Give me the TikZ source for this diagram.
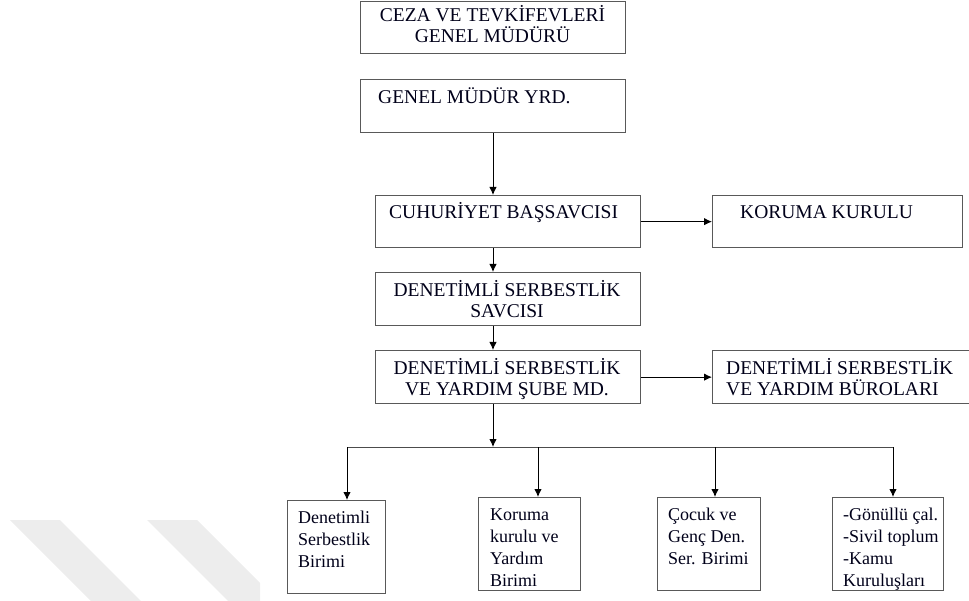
\documentclass[tikz,border=0pt]{standalone}
\usepackage{fontspec}
\setmainfont{Liberation Serif}
\usetikzlibrary{arrows.meta,calc}
\tikzset{
  box/.style={draw=black!65, line width=1.3pt, rectangle, inner sep=0pt, anchor=north west},
  txt/.style={inner sep=0pt, font=\fontsize{19.5}{21}\selectfont, text=black!90!blue},
  ltxt/.style={txt, align=left, anchor=base west},
  ctxt/.style={txt, align=center, anchor=base},
  stxt/.style={inner sep=0pt, font=\fontsize{18}{22.3}\selectfont, text=black!90!blue, align=left, anchor=base west},
  arr/.style={draw=black, line width=1pt, -{Latex[length=8pt,width=7.5pt]}},
  ln/.style={draw=black!70, line width=1pt},
  wm/.style={fill=black!7, draw=none}
}
\begin{document}
\begin{tikzpicture}[x=1pt,y=-1pt]
\useasboundingbox (0,0) rectangle (969,601);
% watermark
\fill[wm] (10,520) -- (60,520) -- (141,601) -- (91,601) -- cycle;
\fill[wm] (147,520) -- (197,520) -- (260,583) -- (260,601) -- (228,601) -- cycle;
% boxes
\node[box, minimum width=265pt, minimum height=52pt] (a) at (360,1) {};
\node[box, minimum width=265pt, minimum height=53pt] (b) at (360,79) {};
\node[box, minimum width=265pt, minimum height=52pt] (c) at (375,195) {};
\node[box, minimum width=250pt, minimum height=52pt] (d) at (712,195) {};
\node[box, minimum width=265pt, minimum height=53pt] (e) at (375,272) {};
\node[box, minimum width=265pt, minimum height=53pt] (f) at (375,350) {};
\node[box, minimum width=258pt, minimum height=53pt] (g) at (712,350) {};
\node[box, minimum width=98pt, minimum height=93pt] (h) at (287,500) {};
\node[box, minimum width=102pt, minimum height=93pt] (i) at (478,497) {};
\node[box, minimum width=103pt, minimum height=93pt] (j) at (657,497) {};
\node[box, minimum width=111pt, minimum height=93pt] (k) at (832,497) {};
% texts (base anchor = baseline of last line)
\node[ctxt] (ta) at (492.5,42.5) {CEZA VE TEVKİFEVLERİ\\GENEL MÜDÜRÜ};
\node[ltxt] (tb) at (378,103.5) {GENEL MÜDÜR YRD.};
\node[ltxt] (tc) at (389,218.5) {CUHURİYET BAŞSAVCISI};
\node[ltxt] (td) at (740,218.5) {KORUMA KURULU};
\node[ctxt] (te) at (507,317.5) {DENETİMLİ SERBESTLİK\\SAVCISI};
\node[ctxt] (tf) at (507,395.5) {DENETİMLİ SERBESTLİK\\VE YARDIM ŞUBE MD.};
\node[ltxt] (tg) at (726,395.5) {DENETİMLİ SERBESTLİK\\VE YARDIM BÜROLARI};
\node[stxt] (th) at (298,567.6) {Denetimli\\Serbestlik\\Birimi};
\node[stxt] (ti) at (490,586.9) {Koruma\\kurulu ve\\Yardım\\Birimi};
\node[stxt] (tj) at (668,564.6) {Çocuk ve\\Genç Den.\\Ser. Birimi};
\node[stxt] (tk) at (843,586.9) {-Gönüllü çal.\\-Sivil toplum\\-Kamu\\Kuruluşları};
% connectors
\coordinate (bus) at (493,447);
\coordinate (dh) at (347,447);
\coordinate (di) at (538,447);
\coordinate (dj) at (715,447);
\coordinate (dk) at (893,447);
\draw[arr] (b.south -| bus) -- (c.north -| bus);
\draw[arr] (c.east) -- (d.west);
\draw[arr] (c.south -| bus) -- (e.north -| bus);
\draw[arr] (e.south -| bus) -- (f.north -| bus);
\draw[arr] (f.east) -- (g.west);
\draw[arr] (f.south -| bus) -- (bus);
\draw[ln] (dh) -- (dk);
\draw[arr] (dh) -- (h.north -| dh);
\draw[arr] (di) -- (i.north -| di);
\draw[arr] (dj) -- (j.north -| dj);
\draw[arr] (dk) -- (k.north -| dk);
\end{tikzpicture}
\end{document}
